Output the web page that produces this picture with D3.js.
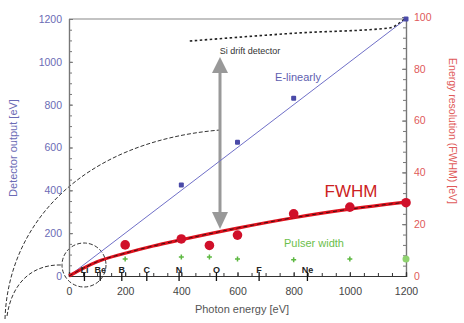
<!DOCTYPE html>
<html><head><meta charset="utf-8">
<script src="https://cdn.jsdelivr.net/npm/d3@7"></script>
<style>body{margin:0;background:#fff}svg{display:block}text{font-family:"Liberation Sans",Arial,sans-serif}</style>
</head><body><svg id="c" width="464" height="323"></svg>
<script>
// ---- data ----
const xTicks = [0, 200, 400, 600, 800, 1000, 1200];
const yLeftTicks = [0, 200, 400, 600, 800, 1000, 1200];
const yRightTicks = [0, 20, 40, 60, 80, 100];
const linearLine = [[0, 0], [1200, 1200]];
const outputPointsX = [400, 600, 800, 1200];
const outputPointsY = [425, 625, 830, 1200];
const fwhmFitX = [0, 100, 200, 300, 400, 600, 800, 1000, 1200];
const fwhmFitY = [0, 5.5, 8.8, 11.6, 14, 18.5, 22.5, 25.8, 28.5];
const fwhmPointsX = [200, 400, 500, 600, 800, 1000, 1200];
const fwhmPointsY = [12, 14.3, 11.8, 15.8, 24, 26.6, 28.3];
const pulserX = [200, 400, 500, 600, 800, 1000, 1200];
const pulserY = [6.6, 7.3, 7.3, 6.6, 6.3, 6.6, 6.6];
const siDriftX = [430, 820, 1140, 1195];
const siDriftY = [1097, 1135, 1158, 1200];
const elements = ["Li", "Be", "B", "C", "N", "O", "F", "Ne"];
const elementEdges = [55, 111, 188, 277, 392, 525, 677, 849];

// ---- layout ----
const svg = d3.select("#c");
const L = 69, R = 406, T = 19, B = 276;
const x = d3.scaleLinear().domain([0, 1200]).range([L, R]);
const yL = d3.scaleLinear().domain([0, 1200]).range([B, T]);
const yR = d3.scaleLinear().domain([0, 100]).range([B, T - 2]);

const blueTxt = "#6b6bb5", redTxt = "#e05a5a";

// annotation curves (magnifier)
svg.append("path").attr("d", "M5,319 C8,225 80,142 220,130")
  .attr("fill", "none").attr("stroke", "#333").attr("stroke-width", 1).attr("stroke-dasharray", "4,2");
svg.append("path").attr("d", "M7,316 C12,282 33,264 62,265")
  .attr("fill", "none").attr("stroke", "#333").attr("stroke-width", 1).attr("stroke-dasharray", "4,2");
svg.append("circle").attr("cx", 84).attr("cy", 265).attr("r", 22)
  .attr("fill", "none").attr("stroke", "#333").attr("stroke-width", 1).attr("stroke-dasharray", "4,2");

// frame top
svg.append("line").attr("x1", L).attr("x2", R).attr("y1", T).attr("y2", T).attr("stroke", "#888").attr("stroke-width", 1.2);

// axes
const gL = svg.append("g").attr("transform", `translate(${L},0)`)
  .call(d3.axisLeft(yL).tickValues(yLeftTicks).tickSize(-4).tickPadding(7).tickFormat(d3.format("d")));
const gLm = svg.append("g").attr("transform", `translate(${L},0)`)
  .call(d3.axisLeft(yL).tickValues(d3.range(0, 1201, 50)).tickSize(-3).tickFormat(""));
const gR = svg.append("g").attr("transform", `translate(${R},0)`)
  .call(d3.axisRight(yR).tickValues(yRightTicks).tickSize(-4).tickPadding(8).tickFormat(d3.format("d")));
const gRm = svg.append("g").attr("transform", `translate(${R},0)`)
  .call(d3.axisRight(yR).tickValues(d3.range(0, 101, 4)).tickSize(-3).tickFormat(""));
const gB = svg.append("g").attr("transform", `translate(0,${B})`)
  .call(d3.axisBottom(x).tickValues(xTicks).tickSize(-4).tickPadding(12).tickFormat(d3.format("d")));
const gBm = svg.append("g").attr("transform", `translate(0,${B})`)
  .call(d3.axisBottom(x).tickValues(d3.range(0, 1201, 50)).tickSize(-3).tickFormat(""));

[gL, gLm, gR, gRm].forEach(g => { g.select(".domain").attr("stroke", "#777").attr("stroke-width", 1.2); g.selectAll(".tick line").attr("stroke", "#777"); });
[gB, gBm].forEach(g => { g.select(".domain").attr("stroke", "#333").attr("stroke-width", 1.2); g.selectAll(".tick line").attr("stroke", "#333"); });
gL.selectAll("text").attr("fill", blueTxt).attr("font-size", 10.5);
gR.selectAll("text").attr("fill", redTxt).attr("font-size", 10.5);
gB.selectAll("text").attr("fill", "#444").attr("font-size", 10.5);

// axis titles
svg.append("text").attr("transform", "translate(17,148) rotate(-90)").attr("text-anchor", "middle")
  .attr("font-size", 11).attr("fill", blueTxt).text("Detector output [eV]");
svg.append("text").attr("transform", "translate(449,131) rotate(90)").attr("text-anchor", "middle")
  .attr("font-size", 10.5).attr("fill", redTxt).text("Energy resolution (FWHM) [eV]");
svg.append("text").attr("x", 242).attr("y", 313).attr("text-anchor", "middle")
  .attr("font-size", 11).attr("fill", "#555").text("Photon energy [eV]");

// Si drift detector dotted line
svg.append("path").datum(siDriftX.map((v, i) => [v, siDriftY[i]]))
  .attr("d", d3.line().x(d => x(d[0])).y(d => yL(d[1])).curve(d3.curveMonotoneX))
  .attr("fill", "none").attr("stroke", "#222").attr("stroke-width", 1.6).attr("stroke-dasharray", "2.5,2.5");
svg.append("text").attr("x", 250).attr("y", 54).attr("text-anchor", "middle").attr("font-size", 9).attr("fill", "#333").text("Si drift detector");

// gray double arrow
const ax = 220;
svg.append("line").attr("x1", ax).attr("x2", ax).attr("y1", 70).attr("y2", 214).attr("stroke", "#999").attr("stroke-width", 3);
svg.append("path").attr("d", `M${ax},57 L${ax - 8},73 L${ax + 8},73 Z`).attr("fill", "#999");
svg.append("path").attr("d", `M${ax},229 L${ax - 8},212 L${ax + 8},212 Z`).attr("fill", "#999");

// E-linear line
svg.append("path").datum(linearLine)
  .attr("d", d3.line().x(d => x(d[0])).y(d => yL(d[1])))
  .attr("stroke", "#7070c8").attr("stroke-width", 1).attr("fill", "none");
svg.selectAll(".bp").data(outputPointsX).enter().append("rect")
  .attr("x", d => x(d) - 2.5).attr("y", (d, i) => yL(outputPointsY[i]) - 2.5).attr("width", 5).attr("height", 5)
  .attr("rx", 1).attr("fill", "#4a4aa8");
svg.append("text").attr("x", 298).attr("y", 81).attr("text-anchor", "middle").attr("font-size", 11).attr("fill", "#5e5eb0").text("E-linearly");

// FWHM fit curve
const fwhmLine = d3.line().x(d => x(d[0])).y(d => yR(d[1])).curve(d3.curveMonotoneX);
const fwhmData = fwhmFitX.map((v, i) => [v, fwhmFitY[i]]);
svg.append("path").datum(fwhmData).attr("d", fwhmLine).attr("fill", "none").attr("stroke", "#e0101c").attr("stroke-width", 3.2);
svg.append("path").datum(fwhmData).attr("d", fwhmLine).attr("fill", "none").attr("stroke", "#111").attr("stroke-width", 0.8).attr("stroke-dasharray", "4,3");
svg.selectAll(".rp").data(fwhmPointsX).enter().append("circle")
  .attr("cx", d => x(d)).attr("cy", (d, i) => yR(fwhmPointsY[i])).attr("r", 4.8).attr("fill", "#d0102a");
svg.append("text").attr("x", 351).attr("y", 197).attr("text-anchor", "middle").attr("font-size", 17).attr("fill", "#cc2222").text("FWHM");

// pulser width
svg.selectAll(".gp").data(pulserX).enter().append("path")
  .attr("d", (d, i) => {
    const cx = x(d), cy = yR(pulserY[i]);
    return `M${cx - 2.5},${cy}H${cx + 2.5}M${cx},${cy - 2.5}V${cy + 2.5}`;
  }).attr("stroke", "#5cb840").attr("stroke-width", 1.5);
svg.append("circle").attr("cx", x(pulserX[pulserX.length - 1])).attr("cy", yR(pulserY[pulserY.length - 1])).attr("r", 3.5).attr("fill", "#8fd36f");
svg.append("text").attr("x", 314).attr("y", 247).attr("text-anchor", "middle").attr("font-size", 11).attr("fill", "#6cc04c").text("Pulser width");

// element edges
const eg = svg.selectAll(".el").data(elements).enter().append("g");
eg.append("line").attr("x1", (d, i) => x(elementEdges[i])).attr("x2", (d, i) => x(elementEdges[i]))
  .attr("y1", 272).attr("y2", 281).attr("stroke", "#111").attr("stroke-width", 1.3);
eg.append("text").attr("x", (d, i) => x(elementEdges[i])).attr("y", 273).attr("text-anchor", "middle")
  .attr("font-size", 9).attr("font-weight", "bold").attr("fill", "#222").text(d => d);
</script></body></html>
